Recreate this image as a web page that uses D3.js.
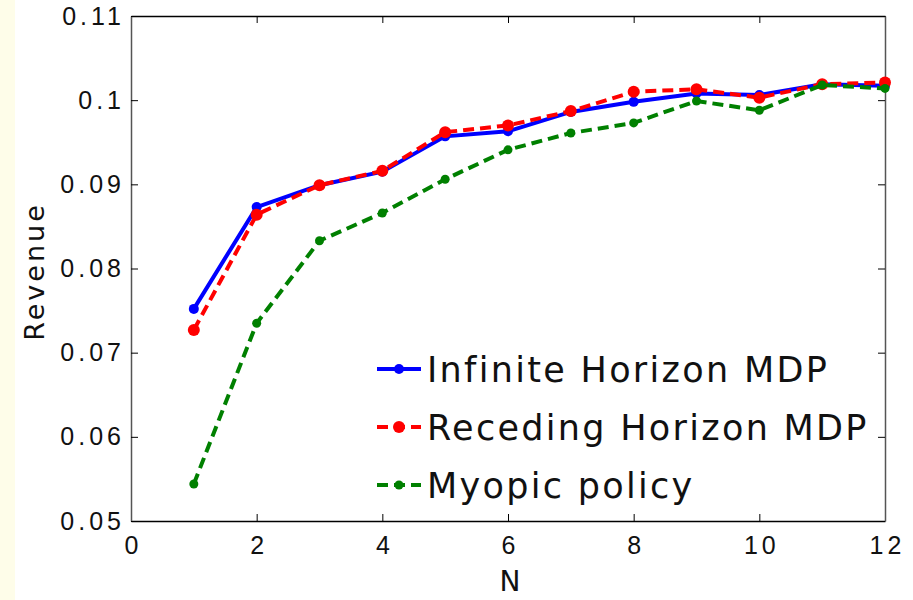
<!DOCTYPE html>
<html>
<head>
<meta charset="utf-8">
<script src="https://cdn.jsdelivr.net/npm/d3@7"></script>
<style>
  body { margin: 0; background: #fff; }
  svg { display: block; font-family: "DejaVu Sans", sans-serif; }
</style>
</head>
<body>
<svg id="chart" width="913" height="600"></svg>
<script>
const nValues = [1, 2, 3, 4, 5, 6, 7, 8, 9, 10, 11, 12];
const infiniteHorizon = [0.0752, 0.0873, 0.0899, 0.0915, 0.0957, 0.0963, 0.0986, 0.0998, 0.1008, 0.1006, 0.1019, 0.1017];
const recedingHorizon = [0.0727, 0.0864, 0.0899, 0.0916, 0.0962, 0.0970, 0.0987, 0.1010, 0.1013, 0.1003, 0.1019, 0.1021];
const myopicPolicy = [0.0544, 0.0735, 0.0833, 0.0866, 0.0906, 0.0941, 0.0961, 0.0973, 0.0999, 0.0988, 0.1018, 0.1014];
const xTicks = [0, 2, 4, 6, 8, 10, 12];
const yTicks = [0.05, 0.06, 0.07, 0.08, 0.09, 0.1, 0.11];

const svg = d3.select("#chart");
const plot = { left: 131, top: 16, right: 885, bottom: 521 };
const tickSpacing = 4;

// pale strip on the left edge
svg.append("rect").attr("x", 0).attr("y", 0).attr("width", 15).attr("height", 600).attr("fill", "#fefde9");

const x = d3.scaleLinear().domain([0, 12]).range([plot.left, plot.right]);
const y = d3.scaleLinear().domain([0.05, 0.11]).range([plot.bottom, plot.top]);

const fmt = (d) => d3.format("")(+d.toFixed(2));

// axes with inward ticks, mirrored on top and right
svg.append("g")
  .attr("transform", `translate(0,${plot.bottom})`)
  .call(d3.axisBottom(x).tickValues(xTicks).tickSizeInner(-7).tickSizeOuter(0).tickPadding(15))
  .call((g) => g.select(".domain").attr("stroke", "#000").attr("stroke-width", 1.5))
  .call((g) => g.selectAll("text").attr("font-size", 25).attr("fill", "#111")
    .attr("letter-spacing", tickSpacing).attr("dx", tickSpacing / 2));
svg.append("g")
  .attr("transform", `translate(0,${plot.top})`)
  .call(d3.axisTop(x).tickValues(xTicks).tickSizeInner(-7).tickSizeOuter(0).tickFormat(""))
  .call((g) => g.select(".domain").attr("stroke", "#000").attr("stroke-width", 1.5));
svg.append("g")
  .attr("transform", `translate(${plot.left},0)`)
  .call(d3.axisLeft(y).tickValues(yTicks).tickSizeInner(-7).tickSizeOuter(0).tickPadding(6).tickFormat(fmt))
  .call((g) => g.select(".domain").attr("stroke", "#555").attr("stroke-width", 1.5))
  .call((g) => g.selectAll("text").attr("font-size", 25).attr("fill", "#111")
    .attr("letter-spacing", tickSpacing));
svg.append("g")
  .attr("transform", `translate(${plot.right},0)`)
  .call(d3.axisRight(y).tickValues(yTicks).tickSizeInner(-7).tickSizeOuter(0).tickFormat(""))
  .call((g) => g.select(".domain").attr("stroke", "#555").attr("stroke-width", 1.5));

// axis titles
svg.append("text")
  .attr("x", (plot.left + plot.right) / 2 + 2).attr("y", 591)
  .attr("text-anchor", "middle").attr("font-size", 28).attr("fill", "#111")
  .text("N");
svg.append("text")
  .attr("transform", `translate(44,${(plot.top + plot.bottom) / 2 + 3}) rotate(-90)`)
  .attr("text-anchor", "middle").attr("font-size", 27).attr("fill", "#111")
  .attr("letter-spacing", 3)
  .text("Revenue");

const series = [
  { name: "Infinite Horizon MDP", values: infiniteHorizon, color: "#0000ff", dash: null, r: 5, width: 4 },
  { name: "Receding Horizon MDP", values: recedingHorizon, color: "#ff0000", dash: "11,6", r: 6, width: 4 },
  { name: "Myopic policy", values: myopicPolicy, color: "#008000", dash: "11,6", r: 4.5, width: 4 },
];

const line = d3.line().x((d) => x(d[0])).y((d) => y(d[1]));

series.forEach((s) => {
  const pts = nValues.map((n, i) => [n, s.values[i]]);
  const g = svg.append("g");
  g.append("path")
    .datum(pts)
    .attr("d", line)
    .attr("fill", "none")
    .attr("stroke", s.color)
    .attr("stroke-width", s.width)
    .attr("stroke-dasharray", s.dash);
  g.selectAll("circle")
    .data(pts)
    .join("circle")
    .attr("cx", (d) => x(d[0]))
    .attr("cy", (d) => y(d[1]))
    .attr("r", s.r)
    .attr("fill", s.color);
});

// legend
const legend = svg.append("g");
const legendRows = [369, 427, 485];
series.forEach((s, i) => {
  const row = legend.append("g").attr("transform", `translate(0,${legendRows[i]})`);
  row.append("line")
    .attr("x1", 377).attr("x2", 421).attr("y1", 0).attr("y2", 0)
    .attr("stroke", s.color).attr("stroke-width", 4)
    .attr("stroke-dasharray", s.dash ? "11,6" : null);
  row.append("circle").attr("cx", 399).attr("cy", 0).attr("r", s.r).attr("fill", s.color);
  row.append("text")
    .attr("x", 427).attr("y", 13)
    .attr("font-size", 35).attr("fill", "#111")
    .attr("letter-spacing", 2.3)
    .text(s.name);
});
</script>
</body>
</html>
